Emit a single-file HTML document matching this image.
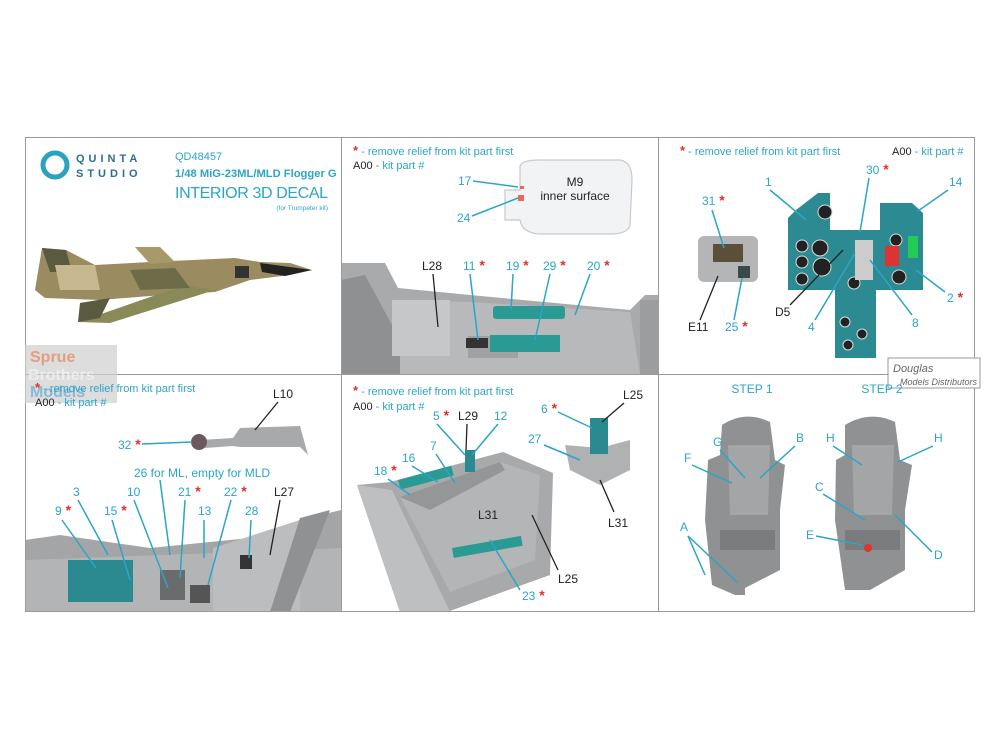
<!DOCTYPE html>
<html><head><meta charset="utf-8"><style>
html,body{margin:0;padding:0;background:#fff;}
svg{display:block;font-family:"Liberation Sans",sans-serif;}
.b{fill:#2ba5c8;font-size:11px;}
.bl{fill:#2ba5c8;font-size:12px;}
.k{fill:#222;font-size:12px;}
.r{fill:#e0302a;font-size:14px;font-weight:bold;}
.lb{stroke:#2ba5c8;stroke-width:1.5;}
.lk{stroke:#222;stroke-width:1.3;}
</style></head><body>
<svg width="1000" height="750" viewBox="0 0 1000 750">
<rect width="1000" height="750" fill="#fff"/>
<path d="M341 263 L385 263 L398 288 L470 295 L630 310 L645 295 L658 295 L658 374 L341 374 Z" fill="#a9aaab"/>
<path d="M395 300 L470 302 L630 312 L640 374 L395 374Z" fill="#b8b9ba"/>
<path d="M341 280 L365 275 L400 340 L400 374 L341 374Z" fill="#8f9091"/>
<rect x="392" y="300" width="58" height="56" fill="#c6c7c8"/>
<rect x="468" y="336" width="50" height="22" fill="#a0a1a2"/>
<rect x="493" y="306" width="72" height="13" rx="3" fill="#2a9a94"/>
<rect x="490" y="335" width="70" height="17" fill="#2a9a94"/>
<rect x="466" y="338" width="22" height="10" fill="#333"/>
<rect x="640" y="300" width="18" height="74" fill="#9c9d9e"/>
<path d="M520 166 Q522 160 540 160 L620 160 Q632 162 632 180 L630 225 Q628 234 610 234 L540 234 Q522 233 520 220 L505 220 L505 190 L520 190 Z" fill="#f2f3f4" stroke="#c8c9cb" stroke-width="1.2"/>
<rect x="518" y="195" width="6" height="6" fill="#e86a5a"/>
<rect x="520" y="186" width="4" height="3" fill="#e86a5a"/>
<rect x="698" y="236" width="60" height="46" rx="6" fill="#b4b5b6"/>
<rect x="713" y="244" width="30" height="18" fill="#5a503a"/>
<rect x="738" y="266" width="12" height="12" fill="#3a4a4a"/>
<path d="M796 210 L818 193 L830 193 L830 230 L880 230 L880 203 L912 203 L923 213 L923 290 L876 290 L876 358 L835 358 L835 290 L788 290 L788 218Z" fill="#2b8a92"/>
<g fill="#222" stroke="#ddd" stroke-width="1">
<circle cx="802" cy="246" r="6"/><circle cx="802" cy="262" r="6"/><circle cx="802" cy="279" r="6"/>
<circle cx="820" cy="248" r="8"/><circle cx="822" cy="267" r="9"/><circle cx="825" cy="212" r="7"/>
<circle cx="896" cy="240" r="6"/><circle cx="899" cy="277" r="7"/><circle cx="854" cy="283" r="6"/>
<circle cx="845" cy="322" r="5"/><circle cx="862" cy="334" r="5"/><circle cx="848" cy="345" r="5"/>
</g>
<rect x="885" y="246" width="14" height="20" fill="#d33"/><rect x="908" y="236" width="10" height="22" fill="#2c5"/>
<rect x="855" y="240" width="18" height="40" fill="#ccc"/>
<path d="M25 540 L60 535 L150 548 L250 538 L300 520 L341 510 L341 612 L25 612Z" fill="#a4a5a6"/>
<path d="M25 560 L300 550 L341 548 L341 612 L25 612Z" fill="#b3b4b5"/>
<path d="M213 548 L300 520 L300 612 L213 612Z" fill="#bcbdbe"/>
<path d="M300 518 L330 510 L290 612 L270 612Z" fill="#909192"/>
<rect x="240" y="555" width="12" height="14" fill="#333"/>
<rect x="68" y="560" width="65" height="42" fill="#2a8a90"/>
<rect x="160" y="570" width="25" height="30" fill="#6a6b6c"/>
<rect x="190" y="585" width="20" height="18" fill="#555"/>
<path d="M200 440 L233 438 L240 428 L300 426 L308 455 L300 447 L240 447 L233 446 L205 448Z" fill="#a8a9aa"/>
<circle cx="199" cy="442" r="8" fill="#6a5a60"/>
<path d="M357 485 L390 482 L503 452 L553 473 L550 575 L447 612 L400 612Z" fill="#a8a9aa"/>
<path d="M400 497 L500 462 L540 475 L535 560 L450 592Z" fill="#b4b5b6"/>
<path d="M400 497 L500 462 L505 470 L430 510Z" fill="#959697"/>
<path d="M357 485 L392 490 L450 612 L400 612Z" fill="#bebfc0"/>
<rect x="398" y="480" width="55" height="10" fill="#2a9a94" transform="rotate(-15 398 480)"/>
<rect x="452" y="548" width="70" height="10" fill="#2a9a94" transform="rotate(-10 452 548)"/>
<rect x="465" y="450" width="10" height="22" fill="#2a8a90"/>
<path d="M565 445 L600 448 L630 440 L630 470 L600 485 L570 470Z" fill="#b0b1b2"/>
<rect x="590" y="418" width="18" height="36" fill="#2a8a90"/>
<g fill="#909192">
<path d="M722 425 Q745 410 770 422 L775 460 L785 465 L780 510 L780 570 L745 588 L745 595 L735 595 L712 585 L705 520 L708 460 L720 455Z"/>
<path d="M845 425 Q870 410 895 422 L900 460 L912 465 L905 510 L905 570 L870 590 L845 590 L835 520 L836 460 L845 455Z"/>
</g>
<g fill="#a4a5a6"><path d="M728 445 L770 445 L768 515 L730 515Z"/><path d="M852 445 L894 445 L892 515 L854 515Z"/></g>
<g fill="#7a7b7c"><rect x="720" y="530" width="55" height="20"/><rect x="845" y="530" width="55" height="20"/></g>
<circle cx="868" cy="548" r="4" fill="#d33"/>
<g stroke="#9a9a9a" stroke-width="1" fill="none">
<rect x="25.5" y="137.5" width="949" height="474"/>
<line x1="341.5" y1="137" x2="341.5" y2="612"/><line x1="658.5" y1="137" x2="658.5" y2="612"/>
<line x1="25" y1="374.5" x2="975" y2="374.5"/>
</g>
<path d="M35 290 L42 248 L66 250 L95 265 L150 262 L235 258 L260 262 L290 263 L312 270 L290 275 L250 280 L215 292 L150 296 L100 300 L45 298Z" fill="#9a8c60"/>
<path d="M185 285 L215 290 L110 323 L78 322Z" fill="#8a8a58"/>
<path d="M135 247 L160 247 L175 262 L150 264Z" fill="#a8996a"/>
<path d="M42 248 L66 250 L72 272 L50 272Z" fill="#5a5a40"/>
<path d="M55 265 L95 265 L100 290 L60 290Z" fill="#c8b890"/>
<path d="M130 270 L175 268 L190 288 L140 290Z" fill="#6e6c48"/>
<path d="M260 263 L312 270 L285 276 L262 272Z" fill="#222"/>
<rect x="235" y="266" width="14" height="12" fill="#333"/>
<path d="M80 303 L110 298 L100 318 L78 322Z" fill="#5a5a40"/>
<circle cx="55" cy="165" r="12" fill="none" stroke="#2aa2c0" stroke-width="5"/>
<text x="76" y="162" fill="#2a6f90" font-size="11" font-weight="bold" letter-spacing="4">QUINTA</text>
<text x="76" y="177" fill="#2a6f90" font-size="11" font-weight="bold" letter-spacing="4">STUDIO</text>
<text x="175" y="160" class="b" font-size="12">QD48457</text>
<text x="175" y="177" fill="#2ba5c8" font-size="11.2" font-weight="bold">1/48 MiG-23ML/MLD Flogger G</text>
<text x="175" y="198" fill="#2ba5c8" font-size="16" textLength="153">INTERIOR 3D DECAL</text>
<text x="328" y="210" fill="#2ba5c8" font-size="6.5" text-anchor="end">(for Trumpeter kit)</text>
<text x="353" y="155" class="b"><tspan fill="#e0302a" font-weight="bold" font-size="13">*</tspan> - remove relief from kit part first</text>
<text x="353" y="169" class="b"><tspan fill="#222">A00</tspan> - kit part #</text>
<text x="575" y="186" class="k" text-anchor="middle">M9</text>
<text x="575" y="200" class="k" text-anchor="middle">inner surface</text>
<text x="458" y="185" class="bl">17</text><line x1="473" y1="181" x2="518" y2="187" class="lb"/>
<text x="457" y="222" class="bl">24</text><line x1="472" y1="216" x2="518" y2="198" class="lb"/>
<text x="422" y="270" class="k">L28</text><line x1="433" y1="274" x2="438" y2="327" class="lk"/>
<text x="463" y="270" class="bl">11<tspan class="r"> *</tspan></text><line x1="470" y1="274" x2="478" y2="340" class="lb"/>
<text x="506" y="270" class="bl">19<tspan class="r"> *</tspan></text><line x1="513" y1="274" x2="511" y2="310" class="lb"/>
<text x="543" y="270" class="bl">29<tspan class="r"> *</tspan></text><line x1="550" y1="274" x2="535" y2="340" class="lb"/>
<text x="587" y="270" class="bl">20<tspan class="r"> *</tspan></text><line x1="590" y1="274" x2="575" y2="315" class="lb"/>
<text x="680" y="155" class="b"><tspan fill="#e0302a" font-weight="bold" font-size="13">*</tspan> - remove relief from kit part first</text>
<text x="892" y="155" class="b"><tspan fill="#222">A00</tspan> - kit part #</text>
<text x="702" y="205" class="bl">31<tspan class="r"> *</tspan></text><line x1="712" y1="210" x2="724" y2="248" class="lb"/>
<text x="688" y="331" class="k">E11</text><line x1="700" y1="320" x2="718" y2="276" class="lk"/>
<text x="725" y="331" class="bl">25<tspan class="r"> *</tspan></text><line x1="734" y1="320" x2="742" y2="278" class="lb"/>
<text x="765" y="186" class="bl">1</text><line x1="770" y1="190" x2="806" y2="220" class="lb"/>
<text x="866" y="174" class="bl">30<tspan class="r"> *</tspan></text><line x1="869" y1="178" x2="860" y2="232" class="lb"/>
<text x="949" y="186" class="bl">14</text><line x1="948" y1="190" x2="918" y2="211" class="lb"/>
<text x="947" y="302" class="bl">2<tspan class="r"> *</tspan></text><line x1="945" y1="292" x2="916" y2="270" class="lb"/>
<text x="775" y="316" class="k">D5</text><line x1="790" y1="305" x2="843" y2="250" class="lk"/>
<text x="808" y="331" class="bl">4</text><line x1="815" y1="320" x2="855" y2="253" class="lb"/>
<text x="912" y="327" class="bl">8</text><line x1="912" y1="315" x2="870" y2="260" class="lb"/>
<rect x="888" y="358" width="92" height="30" fill="#fff" stroke="#999"/>
<text x="893" y="372" fill="#666" font-size="11" font-style="italic">Douglas</text>
<text x="900" y="385" fill="#666" font-size="9" font-style="italic">Models Distributors</text>
<rect x="25" y="345" width="92" height="58" fill="#cfcfcf" opacity="0.7"/>
<text x="30" y="362" fill="#e0a080" font-size="16" font-weight="bold">Sprue</text>
<text x="28" y="380" fill="#f4f4f4" font-size="16" font-weight="bold" opacity="0.7">Brothers</text>
<text x="30" y="397" fill="#8ab8d8" font-size="16" font-weight="bold">Models</text>
<text x="35" y="392" class="b"><tspan fill="#e0302a" font-weight="bold" font-size="13">*</tspan> - remove relief from kit part first</text>
<text x="35" y="406" class="b"><tspan fill="#222">A00</tspan> - kit part #</text>
<text x="273" y="398" class="k">L10</text><line x1="278" y1="402" x2="255" y2="430" class="lk"/>
<text x="118" y="449" class="bl">32<tspan class="r"> *</tspan></text><line x1="142" y1="444" x2="192" y2="442" class="lb"/>
<text x="134" y="477" class="bl">26 for ML, empty for MLD</text>
<text x="73" y="496" class="bl">3</text><text x="55" y="515" class="bl">9<tspan class="r"> *</tspan></text>
<text x="104" y="515" class="bl">15<tspan class="r"> *</tspan></text>
<text x="127" y="496" class="bl">10</text><text x="178" y="496" class="bl">21<tspan class="r"> *</tspan></text>
<text x="198" y="515" class="bl">13</text><text x="224" y="496" class="bl">22<tspan class="r"> *</tspan></text>
<text x="245" y="515" class="bl">28</text><text x="274" y="496" class="k">L27</text>
<line x1="78" y1="500" x2="108" y2="555" class="lb"/><line x1="62" y1="520" x2="96" y2="568" class="lb"/>
<line x1="112" y1="520" x2="130" y2="580" class="lb"/><line x1="134" y1="500" x2="168" y2="588" class="lb"/>
<line x1="160" y1="480" x2="170" y2="555" class="lb"/>
<line x1="185" y1="500" x2="180" y2="578" class="lb"/><line x1="204" y1="520" x2="204" y2="558" class="lb"/>
<line x1="231" y1="500" x2="208" y2="585" class="lb"/><line x1="251" y1="520" x2="249" y2="558" class="lb"/>
<line x1="280" y1="500" x2="270" y2="555" class="lk"/>
<text x="353" y="395" class="b"><tspan fill="#e0302a" font-weight="bold" font-size="13">*</tspan> - remove relief from kit part first</text>
<text x="353" y="410" class="b"><tspan fill="#222">A00</tspan> - kit part #</text>
<text x="433" y="420" class="bl">5<tspan class="r"> *</tspan></text><text x="458" y="420" class="k">L29</text><text x="494" y="420" class="bl">12</text>
<text x="430" y="450" class="bl">7</text><text x="402" y="462" class="bl">16</text><text x="374" y="475" class="bl">18<tspan class="r"> *</tspan></text>
<text x="478" y="519" class="k">L31</text><text x="558" y="583" class="k">L25</text><text x="522" y="600" class="bl">23<tspan class="r"> *</tspan></text>
<text x="541" y="413" class="bl">6<tspan class="r"> *</tspan></text><text x="623" y="399" class="k">L25</text>
<text x="528" y="443" class="bl">27</text><text x="608" y="527" class="k">L31</text>
<line x1="437" y1="424" x2="465" y2="455" class="lb"/><line x1="467" y1="424" x2="466" y2="450" class="lk"/>
<line x1="498" y1="424" x2="472" y2="455" class="lb"/><line x1="436" y1="454" x2="455" y2="483" class="lb"/>
<line x1="412" y1="466" x2="438" y2="482" class="lb"/><line x1="388" y1="479" x2="410" y2="495" class="lb"/>
<line x1="532" y1="515" x2="558" y2="570" class="lk"/><line x1="520" y1="590" x2="490" y2="540" class="lb"/>
<line x1="558" y1="412" x2="592" y2="428" class="lb"/><line x1="624" y1="403" x2="602" y2="422" class="lk"/>
<line x1="544" y1="445" x2="580" y2="460" class="lb"/><line x1="614" y1="512" x2="600" y2="480" class="lk"/>
<text x="752" y="393" class="bl" text-anchor="middle">STEP 1</text><text x="882" y="393" class="bl" text-anchor="middle">STEP 2</text>
<text x="713" y="446" class="bl">G</text><text x="796" y="442" class="bl">B</text><text x="684" y="462" class="bl">F</text>
<text x="680" y="531" class="bl">A</text><text x="826" y="442" class="bl">H</text><text x="934" y="442" class="bl">H</text>
<text x="815" y="491" class="bl">C</text><text x="806" y="539" class="bl">E</text><text x="934" y="559" class="bl">D</text>
<line x1="720" y1="450" x2="745" y2="478" class="lb"/><line x1="795" y1="446" x2="760" y2="478" class="lb"/>
<line x1="692" y1="465" x2="732" y2="483" class="lb"/><line x1="688" y1="536" x2="705" y2="575" class="lb"/>
<line x1="688" y1="536" x2="738" y2="583" class="lb"/>
<line x1="833" y1="446" x2="862" y2="465" class="lb"/><line x1="933" y1="446" x2="898" y2="462" class="lb"/>
<line x1="823" y1="494" x2="865" y2="520" class="lb"/><line x1="816" y1="536" x2="862" y2="545" class="lb"/>
<line x1="932" y1="552" x2="895" y2="515" class="lb"/>
</svg>
</body></html>
